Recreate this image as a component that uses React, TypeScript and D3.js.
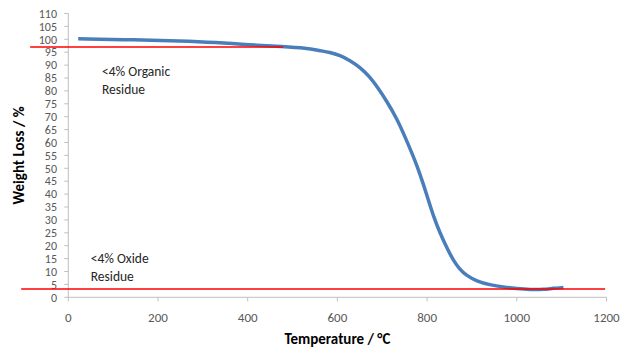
import React from "react";
import * as d3 from "d3";

// TGA trace
const temps = [22, 150, 250, 330, 400, 480, 530, 561, 583, 606, 628, 650, 672, 690, 710, 732, 750, 766, 777, 791, 800, 814, 829, 845, 858, 872, 888, 910, 940, 970, 1000, 1030, 1060, 1080, 1104];
const weights = [100.2, 99.8, 99.4, 98.8, 97.9, 97.2, 96.6, 95.6, 95.0, 93.8, 91.8, 89.2, 85.5, 81.3, 76.0, 69.5, 62.5, 56.0, 51.2, 44.2, 39.3, 31.5, 24.8, 18.8, 14.5, 11.0, 8.4, 6.3, 4.8, 3.9, 3.4, 3.0, 3.0, 3.5, 3.8];

// red reference lines: [x0, x1, y]
const refLines = [
  [-85, 479, 97],
  [-105, 1197, 3.2],
];

const xTicks = [0, 200, 400, 600, 800, 1000, 1200];
const yTicks = d3.range(0, 111, 5);

const notes = [
  { x: 75, y: 76, text: "<4% Organic" },
  { x: 75, y: 94, text: "Residue" },
  { x: 50, y: 263, text: "<4% Oxide" },
  { x: 50, y: 281, text: "Residue" },
];

export default function App() {
  const width = 631;
  const height = 352;
  const x = d3.scaleLinear().domain([0, 1200]).range([68.3, 606.5]);
  const y = d3.scaleLinear().domain([0, 110]).range([297.3, 13.5]);

  const pts = temps.map((t, i) => [t, weights[i]] as [number, number]);
  const line = d3
    .line<[number, number]>()
    .x((d) => x(d[0]))
    .y((d) => y(d[1]))
    .curve(d3.curveBasis);

  const font = "Carlito, 'Liberation Sans Narrow', 'Liberation Sans', sans-serif";
  const axisCol = "#bfbfbf";

  return (
    <svg
      width={width}
      height={height}
      style={{ position: "absolute", left: 0, top: 0, background: "#fff" }}
      fontFamily={font}
    >
      {/* y axis */}
      <line x1={x(0)} x2={x(0)} y1={y(0)} y2={y(110)} stroke={axisCol} />
      {yTicks.map((t) => (
        <g key={"y" + t}>
          <line x1={x(0) - 4} x2={x(0)} y1={y(t)} y2={y(t)} stroke={axisCol} />
          <text
            x={57}
            y={y(t)}
            dy="0.35em"
            textAnchor="end"
            fontSize={12}
            fill="#595959"
          >
            {t}
          </text>
        </g>
      ))}
      {/* x axis */}
      <line x1={x(0)} x2={x(1200)} y1={y(0)} y2={y(0)} stroke={axisCol} />
      {xTicks.map((t) => (
        <g key={"x" + t}>
          <line x1={x(t)} x2={x(t)} y1={y(0)} y2={y(0) + 4} stroke={axisCol} />
          <text
            x={x(t)}
            y={317}
            dy="0.35em"
            textAnchor="middle"
            fontSize={13}
            fill="#595959"
          >
            {t}
          </text>
        </g>
      ))}

      {/* curve */}
      <path d={line(pts) || ""} fill="none" stroke="#4a7ebb" strokeWidth={3.5} />

      {refLines.map((r, i) => (
        <line
          key={"r" + i}
          x1={x(r[0])}
          x2={x(r[1])}
          y1={y(r[2])}
          y2={y(r[2])}
          stroke="#ff0000"
          strokeWidth={1.5}
        />
      ))}

      {notes.map((n, i) => (
        <text key={"n" + i} x={x(n.x)} y={n.y} fontSize={13.5} fill="#262626">
          {n.text}
        </text>
      ))}

      {/* titles */}
      <text
        transform={`translate(24,${(y(0) + y(110)) / 2}) rotate(-90)`}
        textAnchor="middle"
        fontSize={15}
        fontWeight="bold"
        fill="#000"
      >
        Weight Loss / %
      </text>
      <text
        x={x(600)}
        y={344}
        textAnchor="middle"
        fontSize={15}
        fontWeight="bold"
        fill="#000"
      >
        Temperature / °C
      </text>
    </svg>
  );
}
